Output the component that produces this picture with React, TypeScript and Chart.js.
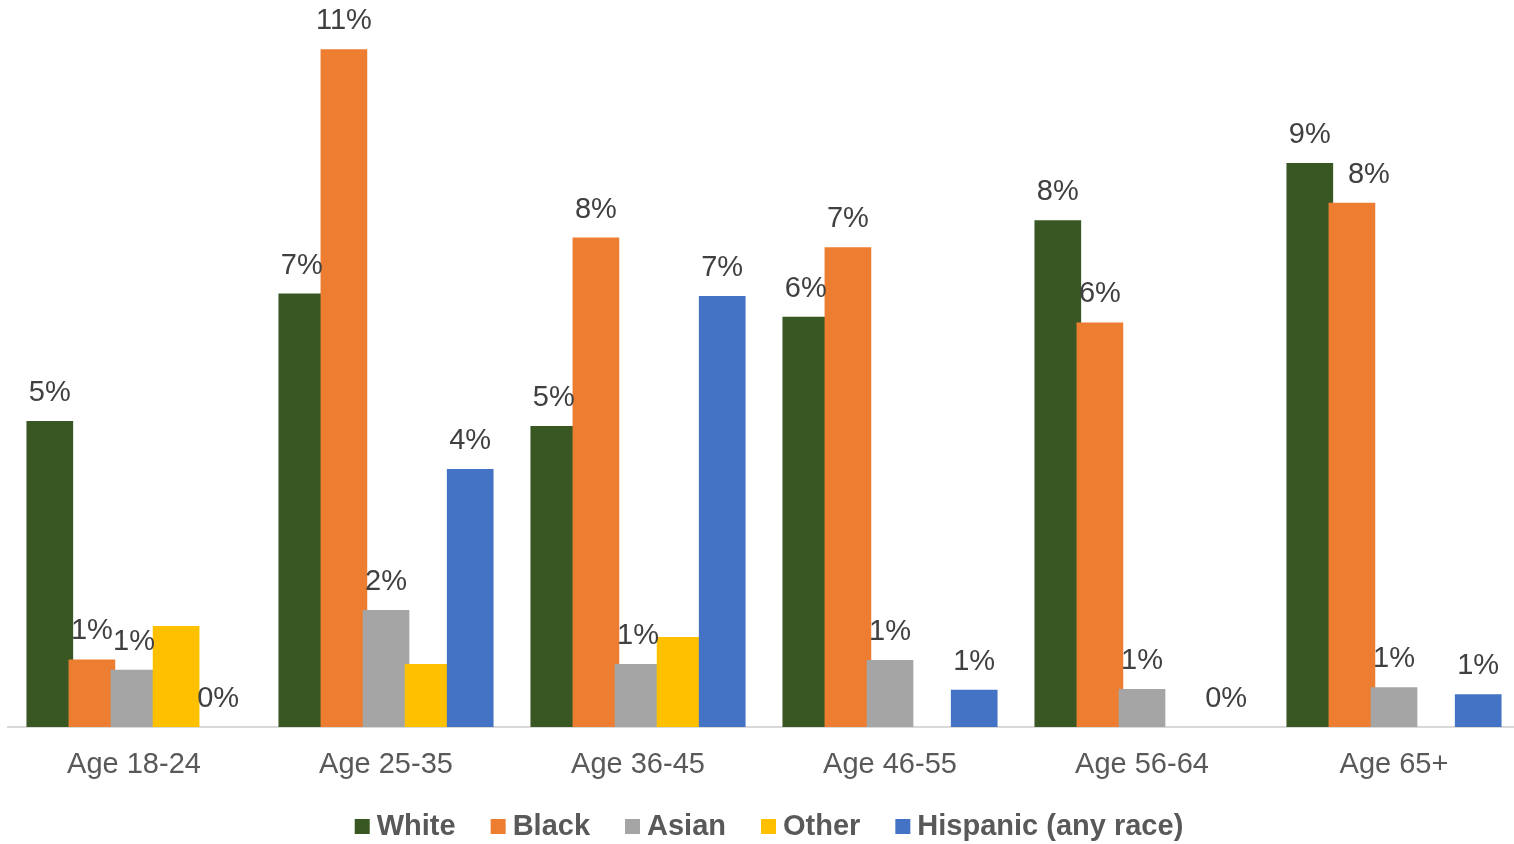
import React, { useEffect, useRef } from "react";
import { Chart, registerables } from "chart.js";

Chart.register(...registerables);

// Share of each age group, by race / ethnicity (percent)
const ageGroups = ["Age 18-24", "Age 25-35", "Age 36-45", "Age 46-55", "Age 56-64", "Age 65+"];
const seriesNames = ["White", "Black", "Asian", "Other", "Hispanic (any race)"];
const seriesColors = ["#385723", "#ED7D31", "#A5A5A5", "#FFC000", "#4472C4"];

const white = [4.76, 6.74, 4.68, 6.38, 7.88, 8.77];
const black = [1.05, 10.54, 7.61, 7.46, 6.29, 8.15];
const asian = [0.89, 1.82, 0.98, 1.04, 0.59, 0.62];
const other = [1.57, 0.98, 1.4, null, null, null];
const hispanic = [0, 4.01, 6.7, 0.58, 0, 0.51];

// "Other" is drawn without value labels
const showValueLabels = [true, true, true, false, true];

// Labels moved sideways so they don't collide with a neighbour's label
const labelShiftX: Record<string, number> = { "Black|Age 65+": 17 };

const FONT = "'Liberation Sans', Arial, Helvetica, sans-serif";

// Paint series left to right so each bar sits over its left neighbour
const seriesOrderPainter = {
  id: "seriesOrderPainter",
  beforeDatasetsDraw(chart: any) {
    const metas = chart.getSortedVisibleDatasetMetas();
    metas.forEach((meta: any) => meta.controller.draw());
    return false;
  },
};

const valueLabels = {
  id: "valueLabels",
  afterDraw(chart: any) {
    const ctx = chart.ctx;
    ctx.save();
    ctx.font = `29px ${FONT}`;
    ctx.fillStyle = "#404040";
    ctx.textAlign = "center";
    ctx.textBaseline = "alphabetic";
    chart.data.datasets.forEach((ds: any, i: number) => {
      if (!showValueLabels[i]) return;
      const meta = chart.getDatasetMeta(i);
      meta.data.forEach((bar: any, j: number) => {
        const v = ds.data[j];
        if (v === null || v === undefined) return;
        const dx = labelShiftX[`${ds.label}|${chart.data.labels[j]}`] || 0;
        ctx.fillText(`${Math.round(v)}%`, bar.x + dx, bar.y - 20);
      });
    });
    ctx.restore();
  },
};

const bottomLegend = {
  id: "bottomLegend",
  afterDraw(chart: any) {
    const ctx = chart.ctx;
    const box = 15;
    const boxGap = 7;
    const itemGap = 35;
    const centerX = 769;
    const boxTop = 819;
    const textY = 827;
    ctx.save();
    ctx.font = `bold 29px ${FONT}`;
    ctx.textBaseline = "middle";
    ctx.textAlign = "left";
    const widths = seriesNames.map((n) => ctx.measureText(n).width);
    const total =
      widths.reduce((a, w) => a + w + box + boxGap, 0) + itemGap * (seriesNames.length - 1);
    let x = centerX - total / 2;
    seriesNames.forEach((name, i) => {
      ctx.fillStyle = seriesColors[i];
      ctx.fillRect(x, boxTop, box, box);
      ctx.fillStyle = "#595959";
      ctx.fillText(name, x + box + boxGap, textY);
      x += box + boxGap + widths[i] + itemGap;
    });
    ctx.restore();
  },
};

export default function App() {
  const canvasRef = useRef<HTMLCanvasElement | null>(null);

  useEffect(() => {
    const canvas = canvasRef.current;
    if (!canvas) return;
    const seriesValues = [white, black, asian, other, hispanic];
    const chart = new Chart(canvas, {
      type: "bar",
      data: {
        labels: ageGroups,
        datasets: seriesNames.map((name, i) => ({
          label: name,
          data: seriesValues[i],
          backgroundColor: seriesColors[i],
          borderWidth: 0,
          categoryPercentage: 0.8353,
          barPercentage: 1.109,
        })),
      },
      options: {
        responsive: false,
        animation: false,
        devicePixelRatio: 1,
        layout: { padding: { top: 8, left: 8, right: 8, bottom: 47 } },
        plugins: {
          legend: { display: false },
          tooltip: { enabled: false },
        },
        scales: {
          x: {
            z: 1,
            grid: { display: false, drawTicks: false },
            border: { display: true, color: "#D9D9D9", width: 2 },
            ticks: {
              color: "#595959",
              font: { family: FONT, size: 29 },
              padding: 21,
              maxRotation: 0,
              autoSkip: false,
            },
            afterFit(scale: any) {
              scale.height = 70;
            },
          },
          y: {
            display: false,
            min: 0,
            max: 11.18,
          },
        },
      },
      plugins: [seriesOrderPainter, valueLabels, bottomLegend],
    });
    return () => chart.destroy();
  }, []);

  return (
    <div
      style={{
        position: "fixed",
        left: 0,
        top: 0,
        width: 1514,
        height: 844,
        overflow: "hidden",
        background: "#ffffff",
      }}
    >
      <canvas
        ref={canvasRef}
        width={1528}
        height={844}
        style={{ width: 1528, height: 844, display: "block" }}
      />
    </div>
  );
}
